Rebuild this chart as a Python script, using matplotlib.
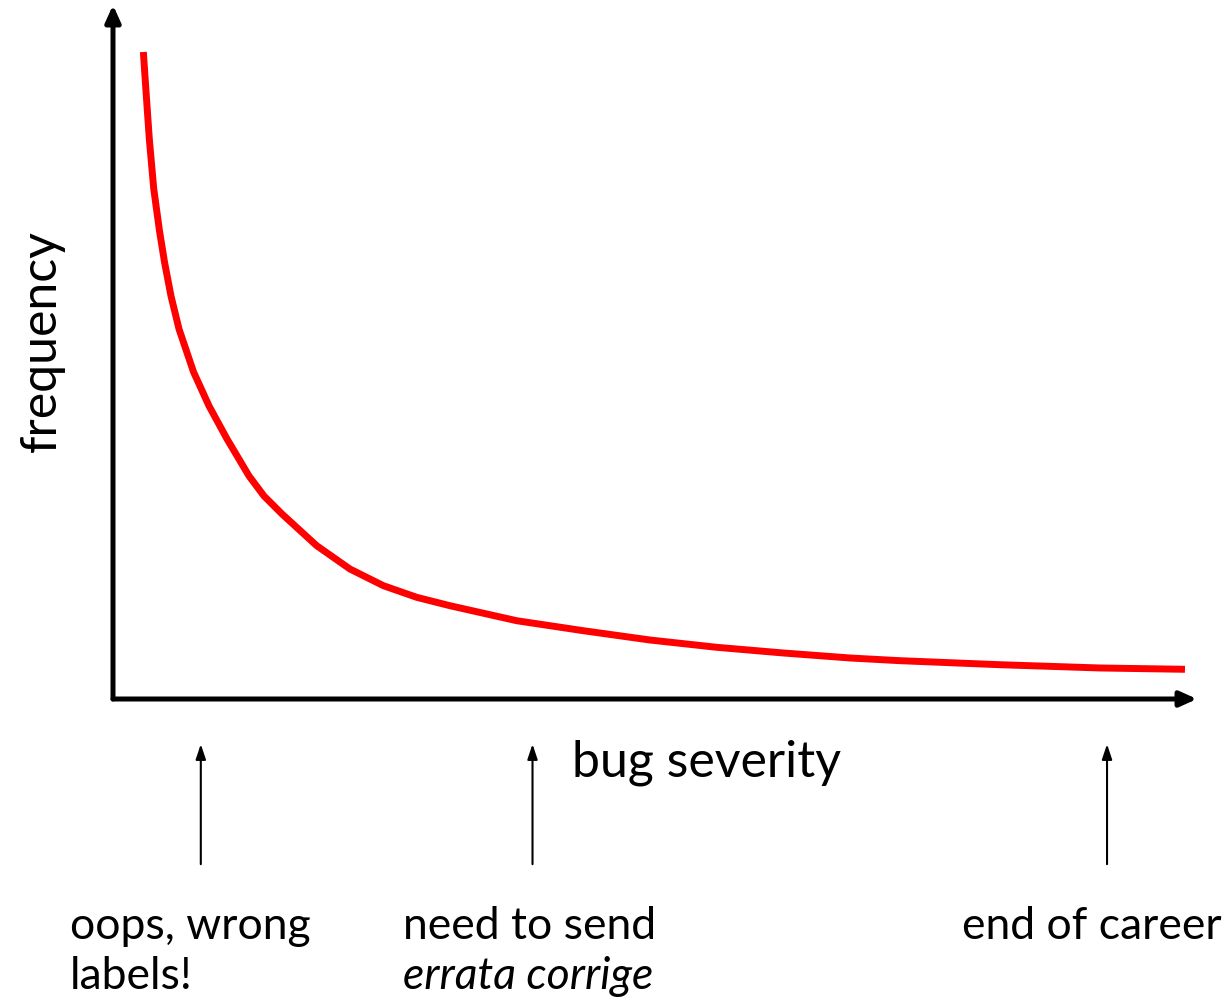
import matplotlib.pyplot as plt

plt.rcParams['font.family'] = ['Lato', 'DejaVu Sans']

# curve: severity (0..100) vs frequency (0..100)
severity = [2.80, 3.03, 3.35, 3.76, 4.29, 4.75, 5.35, 6.09, 7.43, 8.86, 10.52,
            12.55, 13.93, 15.59, 18.79, 21.86, 24.94, 28.02, 31.09, 37.24,
            43.39, 49.54, 55.69, 61.84, 67.99, 72.60, 81.83, 91.05, 98.89]
frequency = [93.23, 87.90, 80.69, 73.49, 67.44, 62.97, 58.07, 53.31, 47.12,
             42.22, 37.46, 32.13, 29.25, 26.66, 22.09, 18.73, 16.33, 14.65,
             13.44, 11.28, 9.84, 8.50, 7.45, 6.63, 5.91, 5.52, 4.94, 4.47, 4.28]

# where the annotations point on the severity axis
marker_pos = [8.1, 38.7, 91.7]
marker_line1 = ["oops, wrong", "need to send", "end of career"]
marker_line2 = ["labels!", "errata corrige", ""]
marker_italic2 = [False, True, False]
text_left_px = [70, 403, 962]

W, H = 1230, 1003
fig = plt.figure(figsize=(W / 100, H / 100), dpi=100)

def fx(px):
    return px / W

def fy(py):
    return 1 - py / H

ax = fig.add_axes([fx(113), fy(700), fx(1197) - fx(113), (700 - 6) / H])
ax.set_xlim(0, 100)
ax.set_ylim(0, 100)
ax.axis('off')

# axes drawn as arrows
arrow_kw = dict(arrowstyle='-|>,head_length=1.0,head_width=0.45', color='black',
                lw=3.6, shrinkA=0, shrinkB=0)
ax.annotate('', xy=(1, 0), xytext=(0, 0), xycoords='axes fraction',
            arrowprops=arrow_kw, annotation_clip=False)
ax.annotate('', xy=(0, 1), xytext=(0, 0), xycoords='axes fraction',
            arrowprops=arrow_kw, annotation_clip=False)

ax.plot(severity, frequency, color='#ff0000', lw=5, solid_capstyle='butt',
        solid_joinstyle='round')

fig.text(fx(707), fy(777), 'bug severity', fontsize=36, ha='center', va='baseline')
fig.text(fx(42), fy(341), 'frequency', fontsize=36, ha='center', va='center',
         rotation=90)

for pos, l1, l2, it, tx in zip(marker_pos, marker_line1, marker_line2,
                               marker_italic2, text_left_px):
    ax.annotate('', xy=(pos, -6.5), xytext=(pos, -23.8),
                arrowprops=dict(arrowstyle='-|>,head_length=0.9,head_width=0.3',
                                color='black', lw=1.5, shrinkA=0, shrinkB=0),
                annotation_clip=False)
    fig.text(fx(tx), fy(939), l1, fontsize=32, ha='left', va='baseline')
    if l2:
        fig.text(fx(tx), fy(989), l2, fontsize=32, ha='left', va='baseline',
                 style='italic' if it else 'normal')

fig.savefig('out.png', dpi=100, facecolor='white')
